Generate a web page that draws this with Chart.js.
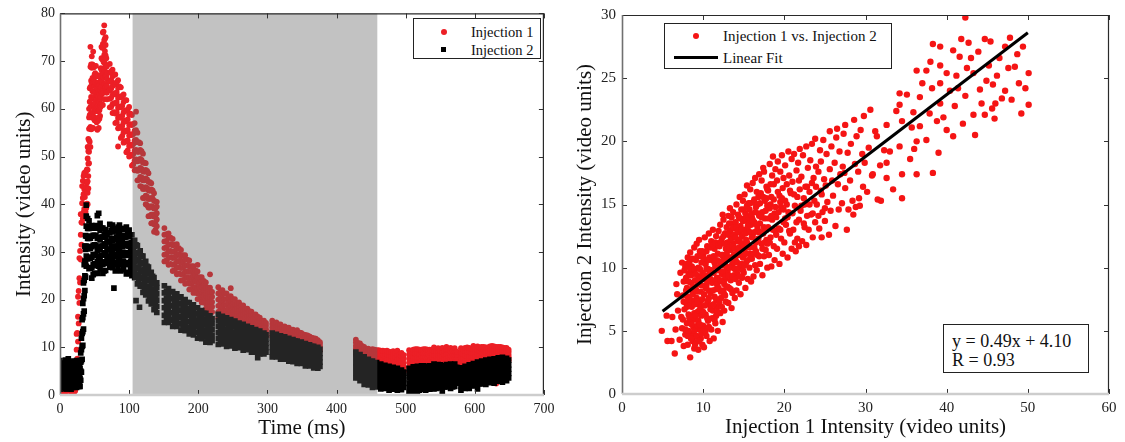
<!DOCTYPE html>
<html>
<head>
<meta charset="utf-8">
<script src="https://cdn.jsdelivr.net/npm/chart.js@4.4.1/dist/chart.umd.min.js"></script>
<style>
  body { margin: 0; background: #fff; width: 1125px; height: 442px; overflow: hidden; position: relative; font-family: 'Liberation Serif', 'Times New Roman', serif; }
  .panel { position: absolute; top: 0; height: 442px; }
  #leftPanel { left: 0; width: 560px; }
  #rightPanel { left: 560px; width: 565px; }
  .box { position: absolute; background: #fff; border: 1px solid #222; box-sizing: border-box; color: #111; }
  .box span { position: absolute; white-space: nowrap; line-height: 18px; }
  .dot { position: absolute; width: 6px; height: 6px; border-radius: 50%; }
  .sq { position: absolute; width: 5px; height: 5px; background: #000; }
  .fit { position: absolute; height: 3px; background: #000; }
  #eqBox { font-size: 18px; }
  #eqBox div { position: absolute; left: 8px; white-space: nowrap; line-height: 20px; }
</style>
</head>
<body>
<div class="panel" id="leftPanel"><canvas id="timeChart" width="560" height="442"></canvas></div>
<div class="panel" id="rightPanel"><canvas id="corrChart" width="565" height="442"></canvas></div>

<div class="box" style="left:413px;top:18px;width:128px;height:41px;font-size:14.5px;">
  <div class="dot" style="left:27px;top:10px;background:#ec1f26;"></div>
  <span style="left:57px;top:4px;">Injection 1</span>
  <div class="sq" style="left:27px;top:28px;"></div>
  <span style="left:57px;top:22px;">Injection 2</span>
</div>

<div class="box" style="left:664px;top:23px;width:228px;height:46px;font-size:15px;">
  <div class="dot" style="left:28px;top:9px;background:#f51414;"></div>
  <span style="left:58px;top:3px;">Injection 1 vs. Injection 2</span>
  <div class="fit" style="left:9px;top:32px;width:44px;"></div>
  <span style="left:58px;top:25px;">Linear Fit</span>
</div>

<div class="box" id="eqBox" style="left:943px;top:324px;width:146px;height:49px;">
  <div style="top:6px;">y = 0.49x + 4.10</div>
  <div style="top:25px;">R = 0.93</div>
</div>

<script>
// 左圖：每列 [時間(ms), 該時間的讀值...]
const inj1Rows = [
  [0,0.8,3.1,5.0],[2,1.9,4.2],[4,0.4,2.6,5.4],[6,1.5,3.9],[8,0.7,3.0,5.2],[10,2.1,4.6],[12,0.9,3.4],
  [14,1.6,2.5,5.0],[16,0.5,3.8],[18,1.2,2.9,4.6],[20,0.3,1.8,4.1],
  [22,0.9,3.5,6.4],[23,2.5,7.2],[24,4.1,9.5,12.8],[25,7.6,13.0],[26,11.2,16.4,20.6],[27,15.0,21.8],
  [28,19.3,24.5,28.7],[29,23.6,30.2],[30,28.4,33.6,37.9],[31,31.5,36.2],[32,36.1,40.2,43.8],[33,37.0,41.3,44.9],
  [34,38.3,42.1,45.9],[35,39.0,43.2,46.5],[36,37.8,41.5,44.7,46.6],[37,38.4,42.7,46.2],[38,39.2,43.6,47.0],[39,40.1,44.5,47.3],
  [40,40.0,42.4,44.8,47.2,49.6,52.0],[41,43.3,45.9,48.5,51.1,53.7],[42,48.6,51.0,53.4,55.8,58.2,60.0],
  [43,53.1,55.9,58.7,61.5,64.3],[44,52.0,56.2,60.4,64.6,68.8,73.0],[45,55.7,59.1,62.5,65.9,69.3],
  [46,55.8,59.0,62.2,65.4,68.6,71.0],[47,58.1,60.9,63.7,66.5,69.3],[48,56.0,59.2,62.4,65.6,68.8,72.0],
  [49,58.3,60.9,63.5,66.1,68.7],[50,57.6,60.0,62.4,64.8,67.2,69.0],[51,59.5,61.5,63.5,65.5,67.5],
  [52,58.0,60.2,62.4,64.6,66.8,69.0],[53,57.2,59.6,62.0,64.4,66.8],[54,55.6,58.0,60.4,62.8,65.2,67.0],
  [55,57.5,59.5,61.5,63.5,65.5],[56,56.0,58.2,60.4,62.6,64.8,67.0],[57,57.9,59.7,61.5,63.3,65.1],
  [58,58.5,60.3,62.1,63.9,65.7,67.0],[59,60.5,62.5,64.5,66.5,68.5],[60,61.0,63.4,65.8,68.2,70.6,73.0],
  [61,63.2,65.6,68.0,70.4,72.8],[62,60.8,64.0,67.2,70.4,73.6,76.0],[63,63.4,66.6,69.8,73.0,76.2],
  [64,62.0,65.1,68.2,71.3,74.4,77.5],[65,64.3,66.9,69.5,72.1,74.7],[66,64.6,66.8,69.0,71.2,73.4,75.0],
  [67,63.4,65.2,67.0,68.8,70.6],[68,62.0,63.4,64.8,66.2,67.6,69.0],
  [72,60.3,62.1,63.9,65.8,67.6,69.4],[74,60.4,62.3,64.2,66.0,67.9],[76,59.1,61.0,62.9,64.8,66.8,68.2],
  [78,59.3,61.2,63.2,65.2,67.1],[80,57.0,59.0,61.1,63.1,65.2,67.2],[82,57.2,59.3,61.4,63.5,65.6],
  [84,52.1,55.9,58.1,60.2,62.3,64.4,66.0],[86,56.3,58.4,60.5,62.6,64.7],[88,53.9,56.0,58.1,60.3,62.4,64.5],
  [90,54.3,56.4,58.5,60.6,62.7],[92,52.9,55.1,57.2,59.3,61.4,63.0],[94,53.2,55.4,57.5,59.6,61.8],
  [96,50.9,53.1,55.3,57.4,59.6,61.8],[98,51.3,53.4,55.6,57.8,59.9],[100,50.0,52.2,54.4,56.6,58.8,60.4],
  [102,50.4,52.5,54.7,56.8,59.0],[104,48.1,50.2,52.3,54.5,56.6,58.7],[106,48.4,50.5,52.6,54.7,56.8],
  [108,47.1,49.2,51.3,53.4,55.4,57.0],[110,47.3,49.4,51.4,53.5,55.5,59.4],[112,45.0,47.0,49.0,51.0,53.0,55.0],
  [114,45.1,47.1,49.1,51.0,53.0],[116,43.8,45.7,47.6,49.5,51.4,52.8],[118,43.7,45.6,47.4,49.3,51.1],
  [120,41.3,43.2,45.0,46.9,48.7,50.6],[122,41.3,43.2,45.0,46.8,48.7],[124,40.0,41.8,43.6,45.4,47.2,48.6],
  [126,39.8,41.6,43.4,45.2,47.0],[128,37.5,39.3,41.1,42.9,44.7,46.5],[130,37.5,39.3,41.1,42.8,44.6],
  [132,36.0,37.8,39.6,41.3,43.1,44.4],[134,36.1,37.8,39.5,41.2,42.9],[136,34.2,35.8,37.4,39.1,40.7,42.3],
  [138,34.6,36.1,37.6,39.1,40.6],[140,34.0,35.4,36.8,38.1,39.5,40.5],
  [151,28.0,29.4,30.8,32.2,33.6,35.0],[154,28.2,29.6,31.0,32.3,33.7],[157,27.3,28.7,30.1,31.5,32.9,33.9],
  [160,27.5,28.9,30.2,31.6,33.0],[163,26.0,27.3,28.7,30.0,31.4,32.7],[166,26.2,27.5,28.9,30.2,31.5],
  [169,25.3,26.7,28.0,29.3,30.6,31.6],[172,25.5,26.8,28.1,29.5,30.8],[175,24.0,25.3,26.6,27.8,29.1,30.4],
  [178,24.1,25.4,26.7,28.0,29.3],[181,23.3,24.6,25.8,27.1,28.4,29.3],[184,23.5,24.7,25.9,27.2,28.4],
  [187,22.1,23.3,24.5,25.8,27.0,28.2],[190,22.2,23.4,24.6,25.8,27.0],[193,21.4,22.6,23.8,24.9,26.1,27.0],
  [196,21.5,22.6,23.8,25.0,26.1],[199,20.1,21.3,22.4,23.6,24.7,25.9,27.3],[202,20.2,21.3,22.5,23.6,24.7],
  [205,19.4,20.5,21.6,22.7,23.9,24.7],[208,19.4,20.6,21.7,22.8,23.9],[211,18.1,19.2,20.3,21.4,22.5,23.6],
  [214,18.1,19.2,20.3,21.4,22.5],[217,17.4,18.5,19.5,20.6,21.7,22.5,25.3],[220,17.4,18.5,19.5,20.6,21.6],
  [229,16.1,17.4,18.7,20.0,21.3,22.6],[232,16.5,17.8,19.1,20.4,21.7],[235,16.0,17.3,18.5,19.8,21.1,22.0],
  [238,16.5,17.7,18.9,20.1,21.3],[241,15.4,16.6,17.8,18.9,20.1,21.3],[244,15.8,17.0,18.1,19.3,20.4],
  [247,15.3,16.4,17.6,18.7,19.8,20.7,22.4],[250,15.7,16.8,17.9,19.0,20.1],[253,14.7,15.8,16.9,17.9,19.0,20.1],
  [256,15.0,16.1,17.1,18.1,19.2],[259,14.6,15.6,16.6,17.7,18.7,19.4],[262,14.9,15.9,16.9,17.9,18.8],
  [265,14.0,15.0,15.9,16.9,17.8,18.8],[268,14.3,15.3,16.2,17.2,18.0],[271,13.8,14.7,15.6,16.5,17.4,18.1],
  [274,14.1,15.0,15.9,16.7,17.6],[277,13.3,14.1,15.0,15.8,16.7,17.5],[280,13.5,14.3,15.2,16.0,16.8],
  [283,13.1,13.9,14.7,15.5,16.3,16.9],[286,13.3,14.1,14.9,15.6,16.4],[289,12.6,13.3,14.0,14.8,15.5,16.2],
  [292,12.8,13.5,14.2,14.9,15.6],[295,12.4,13.1,13.8,14.4,15.1,15.6],[298,12.5,13.2,13.8,14.5,15.1],
  [307,12.2,12.9,13.6,14.2,14.9,15.6],[310,12.4,13.1,13.8,14.4,15.1],[313,12.2,12.8,13.4,14.1,14.7,15.2],
  [316,12.3,12.9,13.6,14.2,14.8],[319,11.7,12.3,12.9,13.6,14.2,14.8],[322,11.8,12.4,13.1,13.7,14.3],
  [325,11.6,12.2,12.8,13.4,14.0,14.4],[328,11.7,12.3,12.9,13.5,14.1],[331,11.1,11.7,12.3,12.9,13.5,14.1],
  [334,11.3,11.9,12.5,13.0,13.6],[337,11.0,11.5,12.1,12.7,13.3,13.7],[340,11.1,11.7,12.2,12.8,13.4],
  [343,10.5,11.1,11.7,12.4,13.0,13.6],[346,10.7,11.3,11.9,12.5,13.1],[349,10.4,11.0,11.5,12.1,12.6,13.0],
  [352,10.5,11.0,11.6,12.1,12.7],[355,10.0,10.5,11.0,11.6,12.1,12.6],[358,10.1,10.7,11.3,11.9,12.5],
  [361,9.8,10.4,10.9,11.4,11.9,12.3],[364,9.9,10.4,10.9,11.5,12.0],[367,9.4,9.9,10.4,10.9,11.4,11.9],
  [370,9.6,10.1,10.7,11.3,11.8],[373,9.2,9.7,10.2,10.7,11.2,11.5],[376,9.3,9.8,10.2,10.7,11.1],
  [428,8.4,9.0,9.7,10.3,11.0,11.6],[431,8.4,9.1,9.7,10.3,10.9],[434,8.0,8.6,9.2,9.8,10.4,10.8],
  [437,8.0,8.6,9.1,9.7,10.3],[440,7.4,7.9,8.5,9.0,9.6,10.1],[443,7.4,8.0,8.5,9.1,9.6],
  [446,7.0,7.6,8.2,8.7,9.3,9.7],[449,7.1,7.7,8.3,8.9,9.4],[452,6.5,7.1,7.7,8.4,9.0,9.6],
  [455,6.7,7.4,8.1,8.8,9.5],[458,6.4,7.0,7.6,8.3,8.9,9.4],[461,6.5,7.3,8.0,8.7,9.4],
  [464,5.9,6.6,7.3,7.9,8.6,9.3],[467,6.2,7.0,7.8,8.5,9.3],[470,5.8,6.5,7.2,7.9,8.7,9.2],
  [473,6.1,6.9,7.7,8.5,9.3],[476,5.4,6.1,6.9,7.6,8.4,9.1],[479,5.7,6.5,7.4,8.2,9.0],
  [482,5.4,6.2,7.0,7.8,8.6,9.2],[485,5.7,6.5,7.2,8.0,8.8],[488,5.0,5.9,6.7,7.6,8.4,9.3],
  [491,5.2,6.0,6.9,7.7,8.5],[494,4.8,5.7,6.5,7.3,8.2,8.8],[497,5.0,5.9,6.7,7.6,8.4],
  [505,5.0,5.9,6.8,7.6,8.5,9.4],[508,5.3,6.3,7.3,8.2,9.2],[511,5.5,6.4,7.2,8.0,8.9,9.5],
  [514,6.1,7.0,7.9,8.7,9.6],[517,5.4,6.2,7.1,7.9,8.8,9.6],[520,6.0,6.9,7.8,8.6,9.5],
  [523,5.7,6.5,7.3,8.1,8.9,9.5],[526,6.4,7.2,8.0,8.8,9.6],[529,5.4,6.2,7.1,7.9,8.8,9.6],
  [532,6.3,7.1,7.9,8.7,9.5],[535,5.7,6.5,7.3,8.1,8.9,9.5],[538,6.4,7.2,7.9,8.7,9.5],
  [541,5.9,6.7,7.5,8.4,9.2,10.0],[544,5.7,6.6,7.5,8.3,9.2],[547,6.0,6.8,7.6,8.4,9.2,9.8],
  [550,6.5,7.2,7.9,8.6,9.3],[553,5.5,6.4,7.3,8.1,9.0,9.9],[556,6.4,7.1,7.8,8.5,9.2],
  [559,6.0,6.9,7.7,8.6,9.5,10.1],[562,6.6,7.3,8.1,8.8,9.5],[565,5.9,6.7,7.5,8.3,9.1,9.9],
  [568,6.1,6.9,7.7,8.4,9.2],[571,6.1,6.9,7.7,8.4,9.2,9.8],[574,6.0,6.8,7.6,8.4,9.1],
  [580,5.1,6.0,7.0,7.9,8.9,9.8],[583,5.8,6.7,7.7,8.6,9.5],[586,5.6,6.5,7.4,8.3,9.2,9.9],
  [589,6.3,7.2,8.1,9.0,10.0],[592,5.7,6.5,7.4,8.2,9.1,9.9],[595,6.3,7.2,8.0,8.8,9.7],
  [598,6.2,7.1,7.9,8.8,9.7,10.3],[601,6.7,7.5,8.2,9.0,9.8],[604,6.3,7.1,7.9,8.6,9.4,10.2],
  [607,6.8,7.6,8.4,9.2,10.0],[610,6.7,7.4,8.1,8.8,9.6,10.1],[613,7.2,7.9,8.6,9.4,10.1],
  [616,6.7,7.4,8.0,8.7,9.3,10.0],[619,7.2,7.9,8.6,9.3,10.0],[622,7.1,7.7,8.4,9.0,9.7,10.2],
  [625,7.5,8.2,8.9,9.6,10.3],[628,7.0,7.6,8.3,8.9,9.6,10.2],[631,2.4,7.4,8.1,8.8,9.4,10.1],
  [634,7.3,7.9,8.5,9.1,9.7,10.1],[637,7.7,8.3,8.9,9.5,10.1],[640,7.3,7.8,8.4,8.9,9.5,10.0],
  [643,7.5,8.1,8.7,9.3,9.9],[646,7.2,7.8,8.4,8.9,9.5,9.9],[649,7.3,7.9,8.4,9.0,9.5]
];

const inj2Rows = [
  [0,1.2,2.4,3.6,4.8,6.0,7.2],[2,1.6,2.7,3.9,5.1,6.2],[4,1.7,2.9,4.1,5.4,6.6],[6,1.8,3.0,4.3,5.5,6.7],
  [8,1.3,2.5,3.7,4.9,6.1,7.3],[10,1.3,2.6,3.8,5.0,6.3],[12,1.8,3.0,4.2,5.5,6.7,7.6],[14,2.0,3.1,4.2,5.4,6.5],
  [16,1.2,2.4,3.6,4.8,5.9,7.1],[18,1.6,2.9,4.2,5.5,6.8],[20,1.7,2.8,3.9,5.0,6.2],[22,2.0,3.2,4.5,5.7,7.0],
  [24,1.6,2.7,3.8,5.0,6.1,7.2],[26,1.8,2.9,4.1,5.2,6.3],[28,1.8,2.8,3.8,4.8,5.8],
  [29,1.8,3.5,5.6,7.2],[30,3.1,5.0,6.9,8.8],[31,4.8,7.2,9.5,11.9],[32,7.5,10.2,12.9,15.8],[33,10.4,13.3,16.2,19.2],
  [34,13.8,17.0,20.2,23.5],[35,17.6,20.8,24.0,27.3],[36,21.9,25.0,28.1,31.2],[37,24.7,27.6,30.5,33.4],
  [38,27.0,29.1,31.2,33.3,35.4,37.5,39.8],[40,28.6,30.7,32.8,34.9,37.0],[42,26.5,28.6,30.7,32.8,34.9,36.5],
  [44,26.6,28.7,30.8,32.9,35.0],[46,24.5,26.7,28.9,31.1,33.3,35.5],[48,25.2,27.3,29.4,31.4,33.5],
  [50,25.5,27.5,29.5,31.5,33.5,35.0],[52,27.1,29.2,31.3,33.4,35.5],[54,25.5,27.9,30.3,32.8,35.2,37.6],
  [56,27.0,29.0,31.0,33.0,35.0,38.1],[58,26.5,28.5,30.5,32.5,34.5,36.0],[60,27.4,29.3,31.2,33.1,35.0],
  [62,25.5,27.4,29.3,31.2,33.1,35.0],[64,26.0,27.9,29.8,31.7,33.6],[66,26.1,27.9,29.7,31.5,33.3,34.7],
  [68,27.6,29.1,30.6,32.1,33.6],
  [72,26.8,28.6,30.4,32.2,34.0,35.8],[74,27.8,29.5,31.2,32.8,34.5],[76,26.7,28.6,30.4,32.3,34.2,35.6],
  [78,22.4,27.3,29.1,30.8,32.6,34.4],[80,26.0,27.7,29.4,31.1,32.8,34.5],[82,27.4,29.3,31.2,33.1,34.9],
  [84,26.7,28.5,30.3,32.1,33.9,35.2],[86,28.2,30.1,31.9,33.8,35.6],[88,26.0,27.8,29.5,31.3,33.0,34.8],
  [90,27.4,29.2,31.1,32.9,34.7],[92,26.3,28.1,29.9,31.7,33.5,34.9],[94,27.6,29.4,31.3,33.1,34.9],
  [96,25.4,27.4,29.3,31.3,33.2,35.2],[98,25.7,27.7,29.8,31.8,33.8],[100,25.5,27.4,29.3,31.2,33.2,34.6],
  [102,26.3,28.1,30.0,31.8,33.6],[104,25.0,26.7,28.4,30.2,31.9,33.6],[106,25.5,27.2,28.9,30.6,32.3],
  [108,24.6,26.3,27.9,29.5,31.2,32.4],[110,19.8,24.9,26.6,28.2,29.8,31.5],[112,23.3,24.9,26.5,28.1,29.7,31.3],
  [114,23.7,25.2,26.8,28.4,29.9],[115,18.4],[116,22.8,24.4,25.9,27.5,29.0,30.2],[118,23.1,24.7,26.2,27.7,29.2],
  [120,21.5,23.0,24.5,26.1,27.6,29.1],[122,21.8,23.3,24.8,26.3,27.8],[124,21.0,22.5,23.9,25.4,26.9,28.0],
  [126,21.3,22.7,24.2,25.6,27.0],[128,19.7,21.1,22.5,24.0,25.4,26.8],[130,20.0,21.4,22.8,24.2,25.6],
  [132,19.1,20.5,21.9,23.3,24.7,25.7],[134,19.4,20.8,22.1,23.5,24.9],[136,17.9,19.2,20.6,21.9,23.3,24.6],
  [138,18.2,19.5,20.8,22.1,23.4],[140,17.3,18.6,19.9,21.2,22.5,23.5],
  [151,15.2,16.7,18.3,19.8,21.4,22.9],[154,15.8,17.3,18.8,20.3,21.8],[157,15.2,16.7,18.2,19.7,21.2,22.3],
  [160,15.7,17.2,18.7,20.2,21.6],[163,14.4,15.9,17.3,18.8,20.2,21.7],[166,14.9,16.4,17.9,19.3,20.8],
  [169,14.4,15.8,17.2,18.7,20.1,21.2],[172,14.9,16.3,17.7,19.1,20.5],[175,13.6,15.0,16.4,17.8,19.2,20.6],
  [178,14.1,15.5,16.9,18.2,19.6],[181,13.5,14.9,16.3,17.6,19.0,20.0],[184,14.0,15.3,16.7,18.0,19.4],
  [187,12.8,14.1,15.4,16.8,18.1,19.4],[190,13.2,14.5,15.9,17.2,18.5],[193,12.6,13.9,15.3,16.6,17.9,18.9],
  [196,13.1,14.4,15.7,17.0,18.3],[199,11.9,13.2,14.5,15.7,17.0,18.3],[202,12.3,13.6,14.9,16.1,17.4],
  [205,11.8,13.1,14.3,15.5,16.8,17.7],[208,12.2,13.4,14.7,15.9,17.1],[211,11.1,12.3,13.5,14.7,15.9,17.1],
  [214,11.5,12.7,13.9,15.1,16.3],[217,11.0,12.2,13.4,14.5,15.7,16.6],[220,11.4,12.5,13.7,14.9,16.0],
  [229,10.6,11.9,13.1,14.4,15.6,16.9],[232,11.1,12.4,13.6,14.8,16.1],[235,10.7,11.9,13.1,14.4,15.6,16.5],
  [238,11.2,12.4,13.7,14.9,16.1],[241,10.2,11.4,12.6,13.8,15.0,16.2],[244,10.7,11.9,13.1,14.2,15.4],
  [247,10.3,11.5,12.6,13.8,14.9,15.8],[250,10.8,11.9,13.1,14.3,15.4],[253,9.8,10.9,12.1,13.2,14.4,15.5],
  [256,10.3,11.4,12.5,13.6,14.7],[259,9.9,11.0,12.1,13.2,14.3,15.1],[262,10.3,11.4,12.5,13.6,14.7],
  [265,9.4,10.5,11.6,12.6,13.7,14.8],[268,9.8,10.9,12.0,13.0,14.1],[271,9.5,10.5,11.5,12.6,13.6,14.4],
  [274,9.9,10.9,11.9,12.9,13.9],[277,9.0,10.0,11.0,12.1,13.1,14.1],[280,9.4,10.4,11.4,12.4,13.4],
  [283,9.0,10.0,11.0,12.0,13.0,13.7],[286,7.8,9.4,10.4,11.3,12.3,13.3],[289,8.6,9.6,10.5,11.5,12.4,13.4],
  [292,9.0,9.9,10.9,11.8,12.7],[295,8.6,9.6,10.5,11.4,12.3,13.0],[298,9.0,9.9,10.8,11.7,12.6],
  [307,8.0,9.0,10.0,11.0,12.0,13.0],[310,8.4,9.4,10.4,11.4,12.4],[313,8.0,9.0,10.0,11.0,12.0,12.7],
  [316,8.4,9.4,10.4,11.4,12.4],[319,7.5,8.5,9.5,10.4,11.4,12.4],[322,7.9,8.9,9.9,10.8,11.8],
  [325,7.5,8.5,9.5,10.5,11.5,12.2],[328,7.9,8.9,9.8,10.8,11.8],[331,7.1,8.1,9.0,10.0,10.9,11.9],
  [334,7.4,8.4,9.4,10.3,11.3],[337,7.0,8.0,9.0,9.9,10.9,11.6],[340,7.4,8.4,9.3,10.3,11.3],
  [343,6.6,7.5,8.5,9.4,10.4,11.3],[346,7.0,7.9,8.9,9.8,10.7],[349,6.6,7.6,8.5,9.5,10.4,11.1],
  [352,6.9,7.8,8.8,9.7,10.7],[355,6.1,7.0,8.0,8.9,9.9,10.8],[358,6.5,7.4,8.4,9.3,10.2],
  [361,6.1,7.1,8.0,8.9,9.8,10.5],[364,6.5,7.4,8.3,9.3,10.2],[367,5.7,6.6,7.5,8.4,9.3,10.2],
  [370,6.0,6.9,7.8,8.7,9.6],[373,5.6,6.6,7.5,8.4,9.3,10.0],[376,6.0,6.9,7.8,8.7,9.6],
  [428,3.6,4.7,5.8,6.8,7.9,9.0],[431,3.7,4.8,5.9,7.0,8.1],[434,3.0,4.2,5.3,6.5,7.6,8.5],
  [437,3.3,4.4,5.6,6.8,7.9],[440,2.2,3.4,4.5,5.7,6.8,8.0],[443,2.6,3.7,4.9,6.0,7.1],
  [446,2.1,3.2,4.4,5.5,6.6,7.5],[449,2.5,3.7,4.8,5.9,7.0],[452,1.6,2.7,3.8,4.9,6.0,7.1],
  [455,2.0,3.1,4.2,5.3,6.4],[458,1.7,2.8,3.8,4.9,6.0,6.8],[461,2.1,3.2,4.2,5.3,6.3],
  [464,1.3,2.3,3.4,4.4,5.5,6.5],[467,1.7,2.8,3.8,4.8,5.9],[470,1.4,2.4,3.4,4.4,5.4,6.2],
  [473,1.9,2.9,3.9,4.9,5.9],[476,1.0,2.0,3.0,4.0,5.0,6.0],[479,1.5,2.5,3.5,4.4,5.4],
  [482,1.2,2.2,3.2,4.1,5.1,5.8],[485,1.7,2.6,3.6,4.5,5.5],[488,1.0,1.9,2.8,3.8,4.7,5.6],
  [491,1.4,2.3,3.2,4.1,5.0],[494,1.1,2.0,2.8,3.7,4.6,5.2],[497,1.6,2.4,3.2,4.0,4.8],
  [505,0.5,1.5,2.5,3.6,4.6,5.6],[508,0.6,1.7,2.7,3.7,4.8],[511,0.7,1.8,2.9,4.0,5.1,5.9],
  [514,1.2,2.3,3.5,4.7,5.8],[517,0.8,1.8,2.9,3.9,5.0,6.0],[520,1.0,2.1,3.3,4.5,5.6],
  [523,1.2,2.2,3.2,4.3,5.3,6.1],[526,1.6,2.7,3.8,5.0,6.1],[529,1.0,2.0,3.0,4.0,5.0,6.0],
  [532,1.2,2.4,3.6,4.7,5.9],[535,1.2,2.2,3.2,4.3,5.3,6.1],[538,1.5,2.6,3.8,4.9,6.1],
  [541,1.3,2.3,3.4,4.4,5.5,6.5],[544,1.4,2.4,3.4,4.4,5.4],[547,1.5,2.5,3.5,4.6,5.6,6.4],
  [550,1.7,2.8,4.0,5.1,6.3],[553,0.5,1.6,2.7,3.9,5.0,6.1],[556,1.7,2.8,3.9,5.0,6.1],
  [559,1.7,2.7,3.7,4.7,5.7,6.4],[562,1.8,3.0,4.1,5.2,6.3],[565,1.4,2.4,3.4,4.5,5.5,6.5],
  [568,1.7,2.7,3.8,4.8,5.8],[571,1.8,2.8,3.8,4.8,5.8,6.5],[574,2.5,3.3,4.2,5.0,5.8],
  [580,1.0,1.9,2.9,3.8,4.8,5.7],[583,1.7,2.6,3.6,4.5,5.4],[586,1.4,2.4,3.4,4.3,5.3,6.0],
  [589,2.0,3.0,4.0,5.0,5.9],[592,1.4,2.4,3.4,4.3,5.3,6.3],[595,2.0,3.0,4.0,5.0,6.0],
  [598,1.9,2.9,3.9,4.9,5.9,6.6],[601,2.5,3.5,4.5,5.5,6.5],[604,1.3,2.4,3.5,4.7,5.8,6.9],
  [607,2.4,3.4,4.5,5.5,6.5],[610,2.3,3.3,4.3,5.3,6.3,7.1],[613,2.9,3.9,4.9,5.9,6.9],
  [616,2.2,3.2,4.2,5.3,6.3,7.3],[619,2.8,3.8,4.9,5.9,6.9],[622,2.6,3.6,4.6,5.7,6.7,7.5],
  [625,3.2,4.2,5.3,6.3,7.3],[628,2.5,3.5,4.5,5.6,6.6,7.6],[631,3.1,4.1,5.2,6.2,7.2],
  [634,2.9,3.9,4.9,6.0,7.0,7.8],[637,3.5,4.5,5.5,6.5,7.5],[640,2.7,3.7,4.8,5.8,6.9,7.9],
  [643,3.3,4.3,5.3,6.3,7.3],[646,3.0,4.0,5.0,5.9,6.9,7.7],[649,3.6,4.5,5.4,6.3,7.3]
];

// 灰色區間 (ms)
const shadeRange = [105, 459];

// 右圖：[Injection 1, Injection 2]
const inj1VsInj2 = [
  [4.9,5.0],[5.6,4.2],[6.1,4.2],[6.5,3.2],[5.5,6.2],[6.2,6.1],[6.7,8.7],[6.6,5.1],[6.9,6.6],[6.8,7.9],
  [7.1,4.3],[7.2,9.6],[7.3,6.1],[7.4,10.4],[7.4,5.2],[7.5,7.8],[7.6,3.8],[7.6,8.9],[7.7,6.7],[7.8,10.1],[7.8,4.7],[7.9,7.2],[7.9,9.2],[8.0,5.6],
  [8.0,8.4],[8.1,3.9],[8.1,10.8],[8.2,6.3],[8.2,9.5],[8.3,4.8],[8.3,7.5],[8.4,2.9],[8.4,11.2],[8.5,5.7],[8.5,8.8],[8.6,6.9],
  [8.6,10.1],[8.7,4.2],[8.7,7.9],[8.8,9.7],[8.8,5.3],[8.9,11.6],[8.9,6.4],[8.9,3.6],[8.6,8.3],[8.4,9.9],[8.2,7.1],[8.8,4.6],
  [9.0,9.0],[9.0,5.9],[9.1,10.6],[9.1,4.1],[9.2,7.6],[9.2,11.9],[9.3,6.5],[9.3,8.7],[9.4,3.5],[9.4,10.0],[9.5,5.1],[9.5,9.3],
  [9.6,7.0],[9.6,11.3],[9.7,4.4],[9.7,8.1],[9.8,6.2],[9.8,10.4],[9.9,3.9],[9.9,9.6],[9.5,12.2],[9.3,5.4],[9.7,7.4],[9.1,8.3],
  [10.0,5.4],[10.0,11.0],[10.1,7.9],[10.1,3.7],[10.2,9.4],[10.2,12.4],[10.3,6.3],[10.3,10.3],[10.4,4.6],[10.4,8.6],[10.5,11.7],
  [10.5,7.1],[10.6,5.8],[10.6,9.9],[10.7,12.7],[10.7,8.2],[10.8,4.2],[10.8,10.8],[10.9,6.7],[10.9,9.1],[10.4,11.3],[10.7,7.6],
  [11.0,12.1],[11.0,5.1],[11.1,8.8],[11.1,10.6],[11.2,6.6],[11.2,13.0],[11.3,4.4],[11.3,9.6],[11.4,7.7],[11.4,11.5],[11.5,5.6],
  [11.5,10.1],[11.6,8.3],[11.6,12.5],[11.7,6.9],[11.7,9.2],[11.8,11.1],[11.8,5.0],[11.9,7.4],[11.9,12.9],[11.3,10.9],[11.6,6.2],
  [12.0,8.9],[12.0,11.7],[12.1,6.4],[12.1,13.4],[12.2,10.2],[12.2,7.6],[12.3,12.3],[12.3,9.5],[12.4,5.7],[12.4,11.0],[12.5,8.2],
  [12.5,13.8],[12.6,6.6],[12.6,10.6],[12.7,12.7],[12.7,9.1],[12.8,7.3],[12.8,11.5],[12.9,10.0],[12.9,13.2],[12.4,14.2],[12.6,7.9],
  [13.0,9.7],[13.0,12.0],[13.1,7.2],[13.1,14.1],[13.2,10.8],[13.2,8.4],[13.3,12.9],[13.3,14.7],[13.4,9.0],[13.4,11.4],[13.5,6.8],
  [13.5,13.5],[13.6,10.3],[13.6,8.0],[13.7,12.4],[13.7,14.4],[13.8,9.4],[13.8,11.0],[13.9,7.6],[13.9,13.1],[13.4,10.1],[13.7,11.9],
  [14.0,10.6],[14.0,13.6],[14.1,8.2],[14.1,15.0],[14.2,12.1],[14.2,9.5],[14.3,14.2],[14.3,11.3],[14.4,8.8],[14.4,12.8],[14.5,15.6],
  [14.5,10.0],[14.6,13.3],[14.6,7.9],[14.7,11.7],[14.7,14.6],[14.8,9.2],[14.8,12.5],[14.9,10.8],[14.9,15.3],[14.2,11.0],[14.6,13.9],
  [15.0,9.6],[15.0,13.0],[15.1,11.4],[15.1,15.8],[15.2,8.4],[15.2,14.3],[15.3,12.2],[15.3,10.4],[15.4,16.5],[15.4,13.7],
  [15.5,9.1],[15.5,11.8],[15.6,15.1],[15.6,12.9],[15.7,10.0],[15.7,14.6],[15.8,11.1],[15.8,16.2],[15.9,8.9],[15.9,13.4],
  [16.0,10.7],[16.0,14.0],[16.1,12.5],[16.1,16.7],[16.2,9.3],[16.2,15.2],[16.3,11.6],[16.3,13.6],[16.4,17.1],[16.4,10.2],
  [16.5,14.8],[16.5,12.0],[16.6,16.0],[16.6,9.8],[16.7,13.1],[16.7,11.0],[16.8,15.6],[16.8,14.3],[16.9,12.8],[16.9,17.4],
  [17.0,10.3],[17.0,13.5],[17.1,15.9],[17.2,11.9],[17.2,16.9],[17.3,9.4],[17.3,14.4],[17.4,12.7],[17.5,17.6],
  [17.5,10.9],[17.6,15.3],[17.6,13.9],[17.7,11.4],[17.8,16.4],[17.8,12.2],[17.9,14.9],[17.9,10.0],[17.4,17.9],
  [18.0,13.2],[18.0,16.1],[18.1,11.0],[18.2,14.7],[18.2,18.2],[18.3,12.4],[18.4,15.6],[18.4,10.1],[18.5,17.3],
  [18.5,13.8],[18.6,18.8],[18.7,11.7],[18.7,16.6],[18.8,14.3],[18.9,12.9],[18.9,17.8],[18.3,15.0],[18.8,10.6],
  [19.0,14.0],[19.1,16.9],[19.1,11.5],[19.2,18.4],[19.3,13.1],[19.4,15.7],[19.4,10.3],[19.5,17.6],
  [19.6,12.3],[19.6,14.8],[19.7,18.9],[19.8,16.3],[19.8,11.1],[19.9,13.6],[19.9,17.1],[19.5,15.2],
  [20.0,12.0],[20.1,15.3],[20.1,18.1],[20.2,13.4],[20.3,16.6],[20.4,10.8],[20.5,19.2],[20.5,14.4],[20.6,17.3],[20.7,12.7],
  [20.8,15.9],[20.9,11.5],[20.9,18.6],[20.4,14.0],
  [21.0,16.8],[21.1,13.0],[21.2,19.0],[21.3,14.9],[21.4,11.3],[21.5,17.7],[21.6,12.3],[21.6,15.6],[21.7,18.3],[21.8,13.8],
  [21.9,19.4],[21.9,16.2],[21.3,12.0],[21.8,11.7],
  [22.0,14.5],[22.1,17.2],[22.2,12.1],[22.3,18.9],[22.4,15.5],[22.5,13.2],[22.6,16.4],[22.7,19.6],[22.7,11.8],[22.8,14.1],[22.9,17.9],[22.5,15.0],
  [23.0,13.0],[23.1,16.0],[23.2,18.5],[23.3,14.2],[23.4,19.8],[23.5,12.4],[23.6,17.1],[23.7,15.3],[23.8,13.6],[23.9,18.0],[23.4,16.7],[23.8,20.2],
  [24.0,15.0],[24.2,17.6],[24.3,13.1],[24.4,19.3],[24.5,16.1],[24.6,12.4],[24.7,14.4],[24.8,20.1],[24.9,17.0],[24.5,18.4],
  [25.0,13.7],[25.1,16.5],[25.2,19.0],[25.3,15.2],[25.5,12.6],[25.6,20.8],[25.6,17.8],[25.7,14.5],[25.9,16.9],[25.8,19.6],
  [26.0,15.7],[26.2,18.3],[26.3,13.3],[26.4,20.3],[26.6,16.6],[26.7,14.6],[26.8,19.2],[26.9,17.4],[26.5,21.0],
  [27.1,15.1],[27.2,18.0],[27.3,20.6],[27.5,21.3],[27.5,16.3],[27.7,13.0],[27.8,19.1],[27.9,14.6],[27.4,17.5],
  [28.1,16.9],[28.2,19.8],[28.4,15.3],[28.5,14.2],[28.6,21.7],[28.7,18.2],[28.8,14.8],[28.9,20.4],
  [29.1,17.6],[29.2,15.5],[29.3,14.9],[29.4,20.9],[29.6,19.0],[29.7,16.4],[29.8,22.0],[29.9,18.3],
  [30.2,16.0],[30.4,19.5],[30.6,22.5],[30.8,17.3],[30.9,17.4],[31.2,20.8],[31.4,20.4],[31.5,15.4],[31.8,18.1],[31.9,15.3],
  [32.3,19.3],[32.6,21.3],[32.6,17.1],[32.6,18.3],[33.0,19.2],[33.4,16.2],[33.8,22.4],[34.2,23.8],[34.2,19.6],[34.2,22.9],
  [34.5,21.6],[34.5,17.4],[34.5,15.5],
  [35.1,23.7],[35.5,18.6],[35.7,21.1],[36.3,25.6],[36.3,20.0],[36.3,17.4],[36.7,21.2],[36.7,23.5],[37.5,25.6],[37.5,20.1],
  [37.9,22.2],[38.2,24.2],[38.3,27.7],[38.3,17.5],[38.8,21.6],[39.0,19.1],[39.2,27.5],[39.2,26.0],[39.2,24.6],[39.2,23.0],
  [36.0,19.4],[37.0,24.6],[38.0,26.3],[35.9,22.3],[39.6,21.9],
  [40.0,25.4],[40.0,20.9],[40.4,24.0],[40.8,27.2],[40.8,20.4],[41.2,25.2],[41.4,24.2],[41.8,28.1],[42.3,29.8],[42.3,23.6],
  [42.5,25.8],[42.7,27.8],[43.3,25.4],[43.3,22.1],[43.5,20.5],[43.9,27.1],[44.1,24.1],[44.7,28.1],[44.7,22.1],[44.9,24.8],
  [41.0,22.8],[42.0,21.4],[43.0,26.6],[44.3,23.0],[41.6,26.7],
  [45.4,27.9],[45.7,24.5],[45.9,21.8],[46.2,25.2],[46.5,26.6],[47.2,27.5],[47.2,24.0],[47.8,28.2],[48.0,23.3],[48.4,25.9],
  [48.7,26.9],[49.2,22.2],[49.4,27.5],[50.1,25.4],[50.1,22.9],[46.8,23.4],[45.2,26.0],[47.6,25.8],[48.9,24.6],[46.0,23.0],
  [49.7,24.2],[45.6,22.6],
  // 密集核心區
  [7.5,5.9],[7.6,7.3],[7.7,9.8],[7.8,5.1],[7.9,8.2],[8.0,6.9],[8.0,10.3],[8.1,4.6],[8.1,7.7],[8.2,5.0],[8.2,8.9],[8.3,10.4],
  [8.3,6.0],[8.4,7.0],[8.5,4.4],[8.5,9.4],[8.6,5.5],[8.6,7.4],[8.7,10.7],[8.7,6.1],[8.8,8.5],[8.9,5.0],[8.9,7.3],[8.9,9.9],[9.0,3.9],
  [9.0,7.1],[9.1,6.2],[9.1,9.5],[9.2,4.6],[9.2,8.1],[9.3,10.9],[9.3,7.3],[9.4,5.8],[9.4,8.9],[9.5,6.6],[9.5,4.2],[9.6,9.9],
  [9.6,5.5],[9.7,10.9],[9.7,6.7],[9.8,8.6],[9.8,4.8],[9.9,7.5],[9.9,11.3],[10.0,6.5],[10.0,9.1],[10.1,5.1],[10.1,10.7],[10.2,7.0],
  [10.3,8.4],[10.3,5.0],[10.4,9.9],[10.5,6.0],[10.5,8.9],[10.6,10.6],[10.6,7.4],[10.7,5.3],[10.8,9.5],[10.9,8.0],[10.9,11.6],
  [11.0,7.0],[11.0,9.8],[11.1,6.0],[11.2,11.8],[11.2,8.2],[11.3,7.1],[11.4,10.4],[11.4,5.9],[11.5,9.0],[11.5,12.0],[11.6,7.5],
  [11.7,10.6],[11.7,8.7],[11.8,6.5],[11.8,9.8],[11.9,11.8],[11.9,8.4],[12.0,7.2],[12.0,10.5],[12.1,9.0],[12.1,12.0],[12.2,8.1],
  [12.3,11.0],[12.3,6.9],[12.4,9.7],[12.5,12.5],[12.5,10.6],[12.6,8.7],[12.6,11.9],[12.7,7.8],[12.7,10.2],[12.8,9.3],[12.8,12.7],
  [12.9,8.5],[12.9,11.1],
  [13.0,10.7],[13.0,8.5],[13.1,12.6],[13.1,9.4],[13.2,11.6],[13.2,13.5],[13.3,10.0],[13.4,12.2],[13.4,8.3],[13.5,10.8],[13.5,14.0],
  [13.6,11.7],[13.6,9.3],[13.7,13.2],[13.8,10.4],[13.8,12.6],[13.9,9.9],[13.9,11.5],[14.0,12.4],[14.0,9.1],[14.1,11.0],[14.1,13.2],
  [14.2,10.4],[14.3,12.9],[14.3,9.9],[14.4,11.6],[14.4,14.0],[14.5,12.2],[14.5,9.3],[14.6,11.0],[14.7,13.0],[14.7,10.3],[14.8,11.9],
  [14.9,13.7],[14.9,9.8],
  [15.0,11.7],[15.0,14.6],[15.1,10.2],[15.2,12.7],[15.2,13.9],[15.3,11.1],[15.4,14.9],[15.4,12.0],[15.5,10.6],[15.5,13.3],[15.6,14.0],
  [15.7,11.6],[15.7,12.8],[15.8,15.1],[15.9,10.9],[15.9,14.2],[16.0,12.4],[16.1,13.8],[16.2,11.1],[16.3,15.4],[16.3,12.8],[16.4,14.4],
  [16.5,11.3],[16.6,13.4],[16.7,15.0],[16.8,12.3],[16.9,14.1],[16.9,10.9],[17.0,15.1],[17.1,12.8],[17.2,14.0],[17.3,11.5],[17.4,15.6],
  [17.5,13.2],[17.6,12.0],[17.7,14.5],[17.8,15.5],[17.8,13.0],[17.9,11.9],[17.9,16.2],
  [18.1,13.9],[18.2,12.0],[18.3,16.6],[18.4,14.1],[18.6,13.0],[18.7,15.4],[18.9,14.8],[19.0,12.6],[19.2,16.0],[19.3,14.4],[19.5,13.0],
  [19.7,15.5],[19.9,14.6],[20.1,13.9],[20.3,15.0],[20.6,12.9],[20.7,16.1],[21.0,14.3],[21.2,15.8],[21.5,13.6],[21.8,16.9],[22.1,14.9],
  [22.4,13.5],[22.8,16.4],[23.1,15.0],[23.5,14.3],[23.9,16.4],[24.2,14.1],[24.6,15.8],[25.0,14.7]
];

// 線性擬合 y = 0.49x + 4.10 的兩端點
const fitX = [5, 50];
const fitY = [6.55, 28.6];

function rowsToPoints(rows) {
  const pts = [];
  rows.forEach(r => {
    for (let i = 1; i < r.length; i++) pts.push({x: r[0], y: r[i]});
  });
  return pts;
}

// 外框 + 向內刻度 (MATLAB 風格)，可選灰色區間
const framePlugin = {
  id: 'frameTicks',
  afterDatasetsDraw(chart, args, opts) {
    const {ctx, chartArea: a, scales: {x, y}} = chart;
    ctx.save();
    if (opts.shade) {
      const x0 = x.getPixelForValue(opts.shade[0]);
      const x1 = x.getPixelForValue(opts.shade[1]);
      ctx.fillStyle = 'rgba(95,95,95,0.38)';
      ctx.fillRect(x0, a.top, x1 - x0, a.bottom - a.top);
    }
    ctx.strokeStyle = '#333';
    ctx.lineWidth = 1;
    ctx.beginPath();
    x.ticks.forEach(t => {
      const px = Math.round(x.getPixelForValue(t.value)) + 0.5;
      ctx.moveTo(px, a.bottom); ctx.lineTo(px, a.bottom - 5);
      ctx.moveTo(px, a.top); ctx.lineTo(px, a.top + 5);
    });
    y.ticks.forEach(t => {
      const py = Math.round(y.getPixelForValue(t.value)) + 0.5;
      ctx.moveTo(a.left, py); ctx.lineTo(a.left + 5, py);
      ctx.moveTo(a.right, py); ctx.lineTo(a.right - 5, py);
    });
    ctx.stroke();
    // 上、右
    ctx.strokeStyle = '#2a2a2a';
    ctx.lineWidth = 1.2;
    ctx.beginPath();
    ctx.moveTo(a.left, a.top + 0.5); ctx.lineTo(a.right, a.top + 0.5);
    ctx.moveTo(a.right - 0.5, a.top); ctx.lineTo(a.right - 0.5, a.bottom);
    ctx.stroke();
    // 左
    ctx.strokeStyle = '#707070';
    ctx.lineWidth = 1.6;
    ctx.beginPath();
    ctx.moveTo(a.left + 0.5, a.top); ctx.lineTo(a.left + 0.5, a.bottom);
    ctx.stroke();
    // 下
    ctx.strokeStyle = '#cdcdcd';
    ctx.lineWidth = 2.4;
    ctx.beginPath();
    ctx.moveTo(a.left, a.bottom); ctx.lineTo(a.right, a.bottom);
    ctx.stroke();
    ctx.restore();
  }
};

const serif = "'Liberation Serif', 'Times New Roman', serif";

function axis(min, max, step, title, fit, tickSize, tickPad, titlePad) {
  return {
    type: 'linear', min: min, max: max,
    grid: {display: false, drawTicks: false},
    border: {display: false},
    ticks: {stepSize: step, font: {family: serif, size: tickSize}, color: '#222', padding: tickPad,
            maxRotation: 0, autoSkip: false},
    title: {display: true, text: title, font: {family: serif, size: 21}, color: '#111', padding: titlePad},
    afterFit: fit
  };
}

// 左圖：時間曲線
new Chart(document.getElementById('timeChart'), {
  type: 'scatter',
  data: {
    datasets: [
      {label: 'Injection 1', data: rowsToPoints(inj1Rows), backgroundColor: '#ec1f26',
       pointRadius: 2.9, pointBorderWidth: 0, order: 1},
      {label: 'Injection 2', data: rowsToPoints(inj2Rows), backgroundColor: '#000',
       pointStyle: 'rect', pointRadius: 4, pointBorderWidth: 0, order: 0}
    ]
  },
  options: {
    responsive: false, animation: false, devicePixelRatio: 1, events: [],
    layout: {padding: {top: 12, right: 12, left: 0, bottom: 0}},
    plugins: {legend: {display: false}, tooltip: {enabled: false}, frameTicks: {shade: shadeRange}},
    scales: {
      x: axis(0, 700, 100, 'Time (ms)', s => { s.height = 47; }, 14, 5.6, {top: 0, bottom: 1.4}),
      y: axis(0, 80, 10, 'Intensity (video units)', s => { s.width = 60; }, 14, 5, {top: 11.4, bottom: 0})
    }
  },
  plugins: [framePlugin]
});

// 右圖：相關散佈
new Chart(document.getElementById('corrChart'), {
  type: 'scatter',
  data: {
    datasets: [
      {label: 'Linear Fit', type: 'line', data: fitX.map((v, i) => ({x: v, y: fitY[i]})),
       borderColor: '#000', borderWidth: 3, pointRadius: 0, fill: false, order: 0},
      {label: 'Injection 1 vs. Injection 2', data: inj1VsInj2.map(p => ({x: p[0], y: p[1]})),
       backgroundColor: '#f51414', pointRadius: 3.2, pointBorderWidth: 0, order: 1}
    ]
  },
  options: {
    responsive: false, animation: false, devicePixelRatio: 1, events: [],
    layout: {padding: {top: 11, right: 16, left: 0, bottom: 0}},
    plugins: {legend: {display: false}, tooltip: {enabled: false}, frameTicks: {}},
    scales: {
      x: axis(0, 60, 10, 'Injection 1 Intensity (video units)', s => { s.height = 48; }, 15, 5, {top: 0, bottom: 2.4}),
      y: axis(0, 30, 5, 'Injection 2 Intensity (video units)', s => { s.width = 62; }, 15, 6, {top: 12.4, bottom: 0})
    }
  },
  plugins: [framePlugin]
});
</script>
</body>
</html>
